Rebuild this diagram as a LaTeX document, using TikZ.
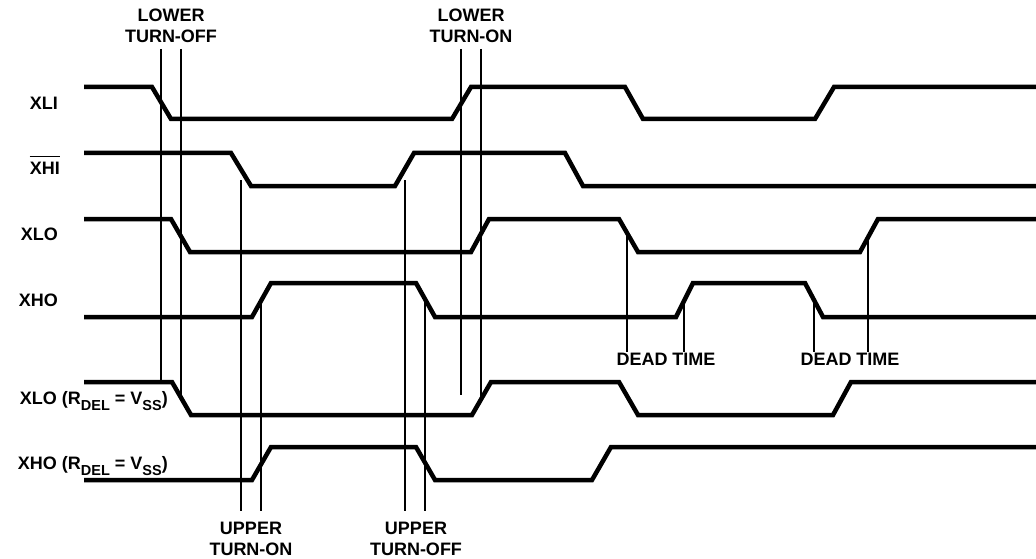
\documentclass[tikz,border=0pt]{standalone}
\usepackage{fontspec}
\setmainfont{Liberation Sans}
\begin{document}
\begin{tikzpicture}[x=1pt,y=-1pt,
  wave/.style={line width=4.5pt,line join=miter},
  mark line/.style={line width=1.6pt},
  lbl/.style={font=\fontsize{18}{18}\selectfont\bfseries,inner sep=0pt},
  sig/.style={lbl,anchor=base east}]
\useasboundingbox (0,0) rectangle (1036,559);
\newcommand{\sub}[1]{\raisebox{-6pt}{\fontsize{14.5}{14.5}\selectfont #1}}
% waveforms
\draw[wave] (84,87) -- (152,87) -- (171,119) -- (452,119) -- (471,87) -- (625,87) -- (643,119) -- (815,119) -- (834,87) -- (1036,87);
\draw[wave] (84,153) -- (231,153) -- (251,186) -- (395,186) -- (414,153) -- (565,153) -- (583,186) -- (1036,186);
\draw[wave] (84,219) -- (171,219) -- (190,252) -- (471,252) -- (489,219) -- (619,219) -- (638,252) -- (860,252) -- (878,219) -- (1036,219);
\draw[wave] (84,317) -- (252,317) -- (271,283) -- (416,283) -- (435,317) -- (676,317) -- (693,283) -- (805,283) -- (823,317) -- (1036,317);
\draw[wave] (84,382) -- (172,382) -- (191,415) -- (472,415) -- (491,382) -- (619,382) -- (638,415) -- (833,415) -- (851,382) -- (1036,382);
\draw[wave] (84,480) -- (252,480) -- (271,447) -- (416,447) -- (435,480) -- (592,480) -- (611,447) -- (1036,447);
% marker lines
\draw[mark line] (161,49) -- (161,382);
\draw[mark line] (181,49) -- (181,398);
\draw[mark line] (461,49) -- (461,395);
\draw[mark line] (481,49) -- (481,399);
\draw[mark line] (241,180) -- (241,511);
\draw[mark line] (261,301) -- (261,511);
\draw[mark line] (405,180) -- (405,511);
\draw[mark line] (425,299) -- (425,511);
\draw[mark line] (627,233) -- (627,352);
\draw[mark line] (684,301) -- (684,352);
\draw[mark line] (814,300) -- (814,352);
\draw[mark line] (868,237) -- (868,352);
% signal labels
\node[sig] (lxli) at (58,110) {XLI};
\node[sig] (lxhi) at (60,175) {XHI};
\draw[line width=1.4pt] ([yshift=6pt]lxhi.north west) -- ([yshift=6pt]lxhi.north east);
\node[sig] (lxlo) at (58,240) {XLO};
\node[sig] (lxho) at (58,306) {XHO};
\node[sig] (lxlor) at (168,404) {XLO (R\sub{DEL} = V\sub{SS})};
\node[sig] (lxhor) at (168,469) {XHO (R\sub{DEL} = V\sub{SS})};
% event labels
\node[lbl,anchor=base] (lto1) at (171,21.5) {LOWER};
\node[lbl,anchor=base] (lto2) at (171,43) {TURN-OFF};
\node[lbl,anchor=base] (lton1) at (471,21.5) {LOWER};
\node[lbl,anchor=base] (lton2) at (471,43) {TURN-ON};
\node[lbl,anchor=base] (uton1) at (251,534) {UPPER};
\node[lbl,anchor=base] (uton2) at (251,555) {TURN-ON};
\node[lbl,anchor=base] (utof1) at (416,534) {UPPER};
\node[lbl,anchor=base] (utof2) at (416,555) {TURN-OFF};
\node[lbl,anchor=base] (dt1) at (666,365.5) {DEAD TIME};
\node[lbl,anchor=base] (dt2) at (850,365.5) {DEAD TIME};
\end{tikzpicture}
\end{document}
